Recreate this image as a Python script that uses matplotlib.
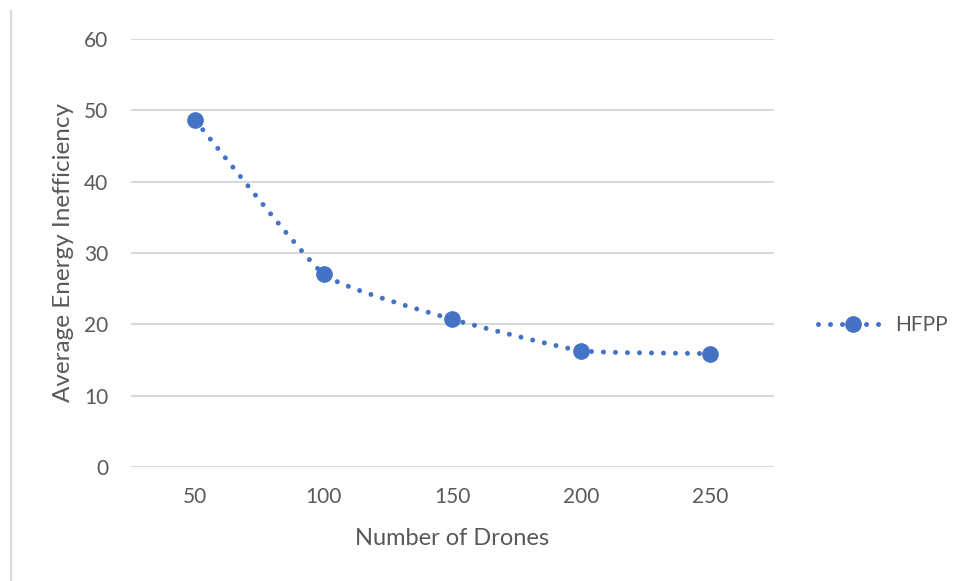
import numpy as np
import matplotlib.pyplot as plt
from matplotlib.path import Path
from matplotlib.patches import PathPatch
from matplotlib.lines import Line2D

# ---- data ----
drones = [50, 100, 150, 200, 250]
hfpp = [48.6, 27.0, 20.7, 16.3, 15.9]
y_ticks = [0, 10, 20, 30, 40, 50, 60]

blue = '#4472C4'
grey_text = '#595959'
grid_col = '#d9d9d9'

plt.rcParams['font.family'] = ['Lato', 'DejaVu Sans']

fig = plt.figure(figsize=(9.59, 5.81), dpi=100)
ax = fig.add_axes([131 / 959, (581 - 467) / 581, 643 / 959, 428 / 581])


def smooth_path(xs, ys, k=1 / 14):
    # gently rounded line: cubic Bezier segments with short tangents
    pts = np.column_stack([xs, ys]).astype(float)
    verts = [pts[0]]
    codes = [Path.MOVETO]
    n = len(pts)
    for i in range(n - 1):
        p0 = pts[max(i - 1, 0)]
        p1 = pts[i]
        p2 = pts[i + 1]
        p3 = pts[min(i + 2, n - 1)]
        c1 = p1 + (p2 - p0) * k
        c2 = p2 - (p3 - p1) * k
        verts += [c1, c2, p2]
        codes += [Path.CURVE4] * 3
    return Path(verts, codes)


line_style = (0, (0.001, 2.4))
curve = PathPatch(smooth_path(drones, hfpp), fill=False, edgecolor=blue,
                  linewidth=3.6, linestyle=line_style, capstyle='round',
                  zorder=3)
ax.add_patch(curve)
ax.plot(drones, hfpp, linestyle='none', marker='o', markersize=11,
        color=blue, zorder=4)

ax.set_xlim(25, 275)
ax.set_ylim(0, 60)
ax.set_xticks(drones)
ax.set_yticks(y_ticks)
ax.grid(axis='y', color=grid_col, linewidth=1.5)
ax.set_axisbelow(True)
for s in ax.spines.values():
    s.set_visible(False)
ax.tick_params(length=0, labelsize=15, labelcolor=grey_text)
ax.tick_params(axis='y', pad=16.5)
ax.tick_params(axis='x', pad=14.5)

ax.set_xlabel('Number of Drones', fontsize=17, color=grey_text, labelpad=15)
ax.set_ylabel('Average Energy Inefficiency', fontsize=17.5, color=grey_text,
              labelpad=7)

handle = Line2D([0], [0], color=blue, linewidth=3.6, linestyle=line_style,
                dash_capstyle='round', marker='o', markersize=11)
fig.legend([handle], ['HFPP'], loc='center left',
           bbox_to_anchor=(799 / 959, 1 - 325 / 581), frameon=False,
           fontsize=15, labelcolor=grey_text, handlelength=3.4,
           handletextpad=0.3)

# thin frame edge on the left side
fig.add_artist(Line2D([11 / 959, 11 / 959], [0, 1 - 11 / 581],
                      transform=fig.transFigure, color=grid_col, linewidth=1.5))

fig.savefig('out.png', dpi=100)
